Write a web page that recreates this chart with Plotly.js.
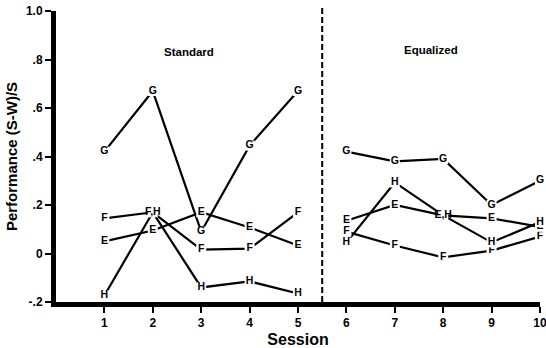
<!DOCTYPE html>
<html>
<head>
<meta charset="utf-8">
<script src="https://cdn.plot.ly/plotly-3.0.1.min.js"></script>
<style>html,body{margin:0;padding:0;background:#fff;}</style>
</head>
<body>
<div id="chart" style="width:546px;height:348px;"></div>
<script>
var sessions = [1, 2, 3, 4, 5, 6, 7, 8, 9, 10];
var seriesG = [0.42, 0.67, 0.09, 0.445, 0.67, 0.42, 0.38, 0.39, 0.20, 0.30];
var seriesF = [0.145, 0.17, 0.016, 0.02, 0.17, 0.09, 0.033, -0.016, 0.012, 0.07];
var seriesE = [0.05, 0.095, 0.17, 0.107, 0.033, 0.135, 0.20, 0.157, 0.145, 0.11];
var seriesH = [-0.173, 0.17, -0.14, -0.115, -0.165, 0.045, 0.293, 0.157, 0.046, 0.13];
var labelsG = ["G","G","G","G","G","G","G","G","G","G"];
var labelsF = ["F","F,H","F","F","F","F","F","F","F","F"];
var labelsE = ["E","E","E","E","E","E","E","E,H","E","E"];
var labelsH = ["H","","H","H","H","H","H","","H","H"];
var yTickVals = [-0.2, 0, 0.2, 0.4, 0.6, 0.8, 1.0];
var yTickText = ["-.2", "0", ".2", ".4", ".6", ".8", "1.0"];
var phaseNames = ["Standard", "Equalized"];
var splitIndex = 5;

var FONT = "Liberation Sans, Arial, sans-serif";
var series = [[seriesG, labelsG], [seriesF, labelsF], [seriesE, labelsE], [seriesH, labelsH]];
var traces = [];
series.forEach(function (s) {
  var vals = s[0];
  [[0, splitIndex], [splitIndex, sessions.length]].forEach(function (r) {
    traces.push({
      x: sessions.slice(r[0], r[1]), y: vals.slice(r[0], r[1]),
      mode: "lines", line: {color: "#000", width: 2.2},
      hoverinfo: "skip", showlegend: false
    });
  });
});
series.forEach(function (s) {
  var vals = s[0], labs = s[1];
  var xs = [], ys = [], ts = [];
  for (var i = 0; i < sessions.length; i++) {
    if (labs[i] !== "") { xs.push(sessions[i]); ys.push(vals[i]); ts.push(labs[i]); }
  }
  traces.push({
    x: xs, y: ys, text: ts, mode: "markers+text",
    marker: {symbol: "square", size: 10, color: "#fff", line: {width: 0}},
    textposition: "middle center",
    textfont: {family: FONT, size: 10.5, color: "#000", weight: "bold"},
    hoverinfo: "skip", showlegend: false, cliponaxis: false
  });
});

var layout = {
  width: 546, height: 348,
  margin: {l: 56, r: 6, t: 11, b: 46},
  paper_bgcolor: "#fff", plot_bgcolor: "#fff",
  showlegend: false,
  xaxis: {
    range: [0, 10.0001], tickvals: sessions, ticktext: sessions.map(String),
    ticks: "outside", ticklen: 6, tickwidth: 2, tickcolor: "#000",
    showline: true, linecolor: "#000", linewidth: 5,
    showgrid: false, zeroline: false, ticklabeloverflow: "allow",
    tickfont: {family: FONT, size: 12, color: "#000", weight: "bold"},
    title: {text: "Session", font: {family: FONT, size: 16, color: "#000", weight: "bold"}, standoff: 6}
  },
  yaxis: {
    range: [-0.2, 1.0], tickvals: yTickVals, ticktext: yTickText,
    ticks: "outside", ticklen: 6, tickwidth: 2, tickcolor: "#000",
    showline: true, linecolor: "#000", linewidth: 5,
    showgrid: false, zeroline: false,
    tickfont: {family: FONT, size: 12, color: "#000", weight: "bold"},
    title: {text: "Performance (S-W)/S", font: {family: FONT, size: 15, color: "#000", weight: "bold"}, standoff: 6}
  },
  shapes: [{
    type: "line", xref: "x", yref: "paper", x0: 5.5, x1: 5.5, y0: 0, y1: 1.01,
    line: {color: "#000", width: 2, dash: "6px,3px"}
  }],
  annotations: [
    {x: 2.75, y: 0.833, xref: "x", yref: "y", text: phaseNames[0], showarrow: false,
     font: {family: FONT, size: 11.5, color: "#000", weight: "bold"}},
    {x: 7.75, y: 0.84, xref: "x", yref: "y", text: phaseNames[1], showarrow: false,
     font: {family: FONT, size: 11.5, color: "#000", weight: "bold"}}
  ]
};
Plotly.newPlot("chart", traces, layout, {staticPlot: true, displayModeBar: false});
</script>
</body>
</html>
